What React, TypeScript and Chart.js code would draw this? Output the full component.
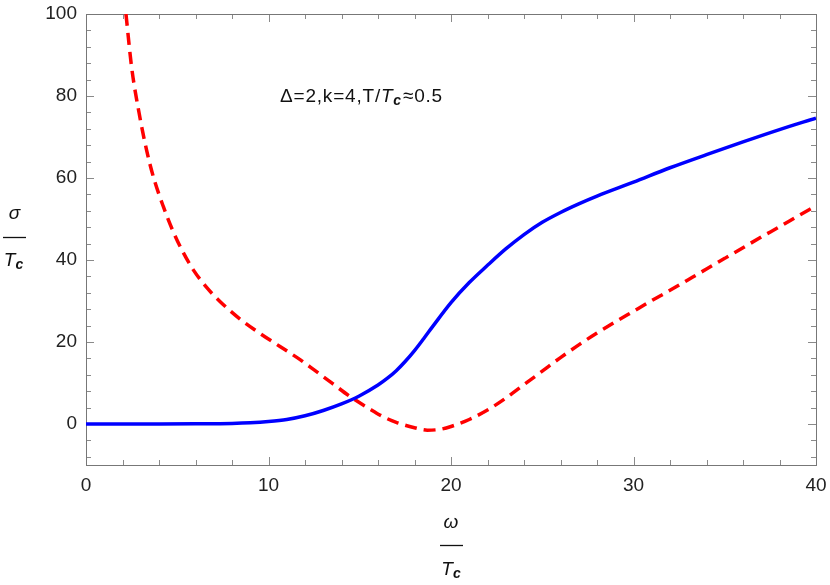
import React, { useEffect, useRef } from "react";
import { Chart, registerables } from "chart.js";

Chart.register(...registerables);

// ---- data ----
const blueX = [0, 2, 4, 6, 8, 9, 10, 11, 12, 13, 14, 15, 16, 16.5, 17, 17.5, 18, 18.5, 19, 20, 21, 22, 23, 24, 25, 26, 27, 28, 30, 32, 34, 36, 38, 40];
const blueY = [0, 0, 0, 0.05, 0.15, 0.3, 0.6, 1.1, 2.0, 3.3, 4.9, 6.9, 9.5, 11.1, 13.0, 15.3, 17.9, 20.8, 23.8, 29.6, 34.5, 38.7, 42.7, 46.2, 49.2, 51.6, 53.7, 55.6, 59.0, 62.5, 65.7, 68.8, 71.8, 74.6];

const redX = [2.19, 2.5, 2.92, 3.32, 3.69, 4.24, 4.79, 5.33, 5.88, 6.61, 7.34, 8.44, 9.53, 10.63, 11.73, 12.5, 13.5, 14.47, 15.5, 16.27, 17.0, 18.0, 18.7, 19.4, 20, 21, 22, 23, 24, 25, 26, 27, 28, 29, 30, 31, 32, 33, 34, 35, 36, 37, 38, 39, 40];
const redY = [100, 87, 75.6, 66.8, 60.3, 53.0, 46.8, 41.8, 37.6, 33.3, 29.9, 25.6, 22.1, 18.9, 15.7, 13.2, 9.9, 6.7, 3.8, 1.8, 0.4, -0.9, -1.5, -1.3, -0.6, 1.1, 3.4, 6.3, 9.6, 12.9, 16.2, 19.3, 22.2, 24.9, 27.5, 30.1, 32.6, 35.2, 37.8, 40.4, 43.0, 45.6, 48.1, 50.7, 53.2];

const xTickValues = [0, 10, 20, 30, 40];
const yTickValues = [0, 20, 40, 60, 80, 100];
const xRange = [0, 40];
const yRange = [-10, 100];
const xMinorStep = 2;
const yMinorStep = 4;

const FONT = "'Liberation Sans', Arial, sans-serif";

function drawTc(ctx: CanvasRenderingContext2D, cx: number, baseline: number, size: number) {
  ctx.font = `italic ${size}px ${FONT}`;
  const wT = ctx.measureText("T").width;
  const subSize = Math.round(size * 0.72);
  ctx.font = `italic bold ${subSize}px ${FONT}`;
  const wc = ctx.measureText("c").width;
  const total = wT + wc;
  const x0 = cx - total / 2;
  ctx.textAlign = "left";
  ctx.textBaseline = "alphabetic";
  ctx.font = `italic ${size}px ${FONT}`;
  ctx.fillText("T", x0, baseline);
  ctx.font = `italic bold ${subSize}px ${FONT}`;
  ctx.fillText("c", x0 + wT, baseline + size * 0.18);
}

export default function App() {
  const ref = useRef<HTMLCanvasElement>(null);

  useEffect(() => {
    if (!ref.current) return;

    const framePlugin = {
      id: "mmaFrame",
      beforeDatasetsDraw(chart: any) {
        const { ctx, chartArea: a, scales } = chart;
        const xs = scales.x;
        const ys = scales.y;
        ctx.save();
        ctx.strokeStyle = "#8a8a8a";
        ctx.lineWidth = 1;
        ctx.beginPath();
        for (let v = xRange[0]; v <= xRange[1] + 1e-9; v += xMinorStep) {
          const px = Math.round(xs.getPixelForValue(v)) + 0.5;
          const major = xTickValues.includes(v);
          const len = major ? 8 : 5;
          ctx.moveTo(px, a.bottom);
          ctx.lineTo(px, a.bottom - len);
          ctx.moveTo(px, a.top);
          ctx.lineTo(px, a.top + len);
        }
        for (let v = -8; v <= yRange[1] + 1e-9; v += yMinorStep) {
          const py = Math.round(ys.getPixelForValue(v)) + 0.5;
          const major = yTickValues.includes(v);
          const len = major ? 8 : 5;
          ctx.moveTo(a.left, py);
          ctx.lineTo(a.left + len, py);
          ctx.moveTo(a.right, py);
          ctx.lineTo(a.right - len, py);
        }
        ctx.stroke();
        ctx.strokeStyle = "#777777";
        ctx.strokeRect(Math.round(a.left) + 0.5, Math.round(a.top) + 0.5, Math.round(a.right - a.left), Math.round(a.bottom - a.top));
        ctx.restore();
      },
      afterDraw(chart: any) {
        const { ctx } = chart;
        ctx.save();
        ctx.fillStyle = "#111";
        ctx.strokeStyle = "#111";
        // annotation
        const size = 19;
        let x = 280;
        const base = 102;
        ctx.textAlign = "left";
        ctx.textBaseline = "alphabetic";
        (ctx as any).letterSpacing = "0.8px";
        ctx.font = `${size}px ${FONT}`;
        const s1 = "Δ=2,k=4,T/";
        ctx.fillText(s1, x, base);
        x += ctx.measureText(s1).width;
        ctx.font = `italic ${size}px ${FONT}`;
        ctx.fillText("T", x, base);
        x += ctx.measureText("T").width;
        ctx.font = `italic bold ${Math.round(size * 0.72)}px ${FONT}`;
        ctx.fillText("c", x, base + 3);
        x += ctx.measureText("c").width + 1;
        ctx.font = `${size}px ${FONT}`;
        ctx.fillText("≈0.5", x, base);
        (ctx as any).letterSpacing = "0px";

        // y label: sigma / T_c
        ctx.font = `italic 19px ${FONT}`;
        ctx.textAlign = "center";
        ctx.fillText("σ", 14.5, 219);
        ctx.lineWidth = 1.3;
        ctx.beginPath();
        ctx.moveTo(3, 237.5);
        ctx.lineTo(26, 237.5);
        ctx.stroke();
        drawTc(ctx, 13.5, 266, 19);

        // x label: omega / T_c
        ctx.font = `italic 19px ${FONT}`;
        ctx.textAlign = "center";
        ctx.fillText("ω", 451, 528);
        ctx.beginPath();
        ctx.moveTo(440, 545.5);
        ctx.lineTo(463, 545.5);
        ctx.stroke();
        drawTc(ctx, 451, 575, 19);
        ctx.restore();
      },
    };

    const zeroPad = (s: any) => {
      s.paddingTop = 0;
      s.paddingBottom = 0;
      s.paddingLeft = 0;
      s.paddingRight = 0;
    };

    const chart = new Chart(ref.current, {
      type: "line",
      data: {
        datasets: [
          {
            label: "blue",
            data: blueX.map((v, i) => ({ x: v, y: blueY[i] })),
            borderColor: "#0000ff",
            borderWidth: 3.5,
            pointRadius: 0,
            cubicInterpolationMode: "monotone",
            fill: false,
          },
          {
            label: "red",
            data: redX.map((v, i) => ({ x: v, y: redY[i] })),
            borderColor: "#ff0000",
            borderWidth: 3.5,
            borderDash: [12, 7],
            pointRadius: 0,
            cubicInterpolationMode: "monotone",
            fill: false,
          },
        ],
      },
      options: {
        animation: false,
        responsive: false,
        layout: { padding: { top: 14, right: 14, left: 0, bottom: 0 } },
        plugins: { legend: { display: false }, tooltip: { enabled: false } },
        scales: {
          x: {
            type: "linear",
            min: xRange[0],
            max: xRange[1],
            grid: { display: false, drawTicks: false },
            border: { display: false },
            ticks: { color: "#222", font: { size: 19, family: FONT }, padding: 9, maxRotation: 0 },
            afterBuildTicks: (s: any) => {
              s.ticks = xTickValues.map((v) => ({ value: v }));
            },
            afterFit: (s: any) => {
              s.height = 120;
              zeroPad(s);
            },
          },
          y: {
            type: "linear",
            min: yRange[0],
            max: yRange[1],
            grid: { display: false, drawTicks: false },
            border: { display: false },
            ticks: { color: "#222", font: { size: 19, family: FONT }, padding: 9 },
            afterBuildTicks: (s: any) => {
              s.ticks = yTickValues.map((v) => ({ value: v }));
            },
            afterFit: (s: any) => {
              s.width = 86;
              zeroPad(s);
            },
          },
        },
      },
      plugins: [framePlugin],
    } as any);

    return () => chart.destroy();
  }, []);

  return (
    <div style={{ position: "absolute", left: 0, top: 0, width: 830, height: 585, background: "#fff" }}>
      <canvas ref={ref} width={830} height={585} style={{ display: "block" }} />
    </div>
  );
}
